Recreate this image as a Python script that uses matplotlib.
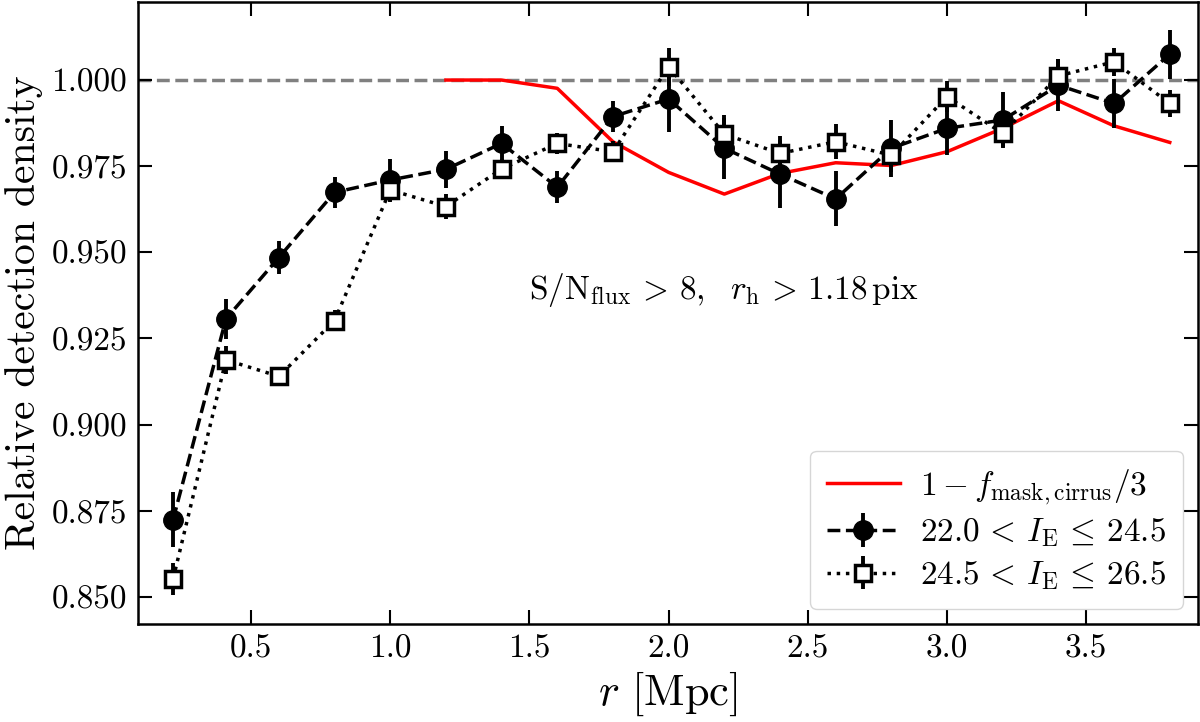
import numpy as np
import matplotlib
matplotlib.use("Agg")
import matplotlib.pyplot as plt

plt.rcParams['font.family'] = 'serif'
plt.rcParams['font.serif'] = ['cmr10']
plt.rcParams['mathtext.fontset'] = 'cm'
plt.rcParams['axes.formatter.use_mathtext'] = True

# bright sample: 22.0 < I_E <= 24.5
r_bright = [0.22, 0.41, 0.6, 0.8, 1.0, 1.2, 1.4, 1.6, 1.8, 2.0, 2.2, 2.4, 2.6, 2.8, 3.0, 3.2, 3.4, 3.6, 3.8]
d_bright = [0.8724, 0.9307, 0.9485, 0.9674, 0.9710, 0.9741, 0.9816, 0.9689, 0.9894, 0.9945,
            0.9802, 0.9727, 0.9655, 0.9802, 0.9860, 0.9884, 0.9985, 0.9932, 1.0075]
e_bright = [0.008, 0.0058, 0.0048, 0.0044, 0.006, 0.0054, 0.005, 0.0047, 0.0044, 0.0095,
            0.0089, 0.0098, 0.008, 0.0082, 0.0077, 0.008, 0.0075, 0.007, 0.0071]

# faint sample: 24.5 < I_E <= 26.5
r_faint = [0.22, 0.41, 0.6, 0.8, 1.0, 1.2, 1.4, 1.6, 1.8, 2.0, 2.2, 2.4, 2.6, 2.8, 3.0, 3.2, 3.4, 3.6, 3.8]
d_faint = [0.8552, 0.9188, 0.9140, 0.9302, 0.9681, 0.9633, 0.9742, 0.9816, 0.9792, 1.0039,
           0.9843, 0.9787, 0.9821, 0.9782, 0.9952, 0.9845, 1.0012, 1.0053, 0.9932]
e_faint = [0.0046, 0.004, 0.0025, 0.003, 0.0035, 0.0035, 0.003, 0.003, 0.003, 0.0055,
           0.0055, 0.005, 0.005, 0.005, 0.0044, 0.004, 0.005, 0.004, 0.004]

# cirrus mask curve
r_mask = [1.2, 1.4, 1.6, 1.8, 2.0, 2.2, 2.4, 2.6, 2.8, 3.0, 3.2, 3.4, 3.6, 3.8]
d_mask = [1.0, 1.0, 0.9976, 0.9821, 0.9732, 0.9669, 0.9729, 0.9760, 0.9752, 0.9792,
          0.9860, 0.9940, 0.9867, 0.9819]

fig = plt.figure(figsize=(12, 7.22), dpi=100)
ax = fig.add_axes([0.115, 0.136, 0.883, 0.861])

ax.axhline(1.0, color='gray', ls='--', lw=2.5, zorder=1)
ax.plot(r_mask, d_mask, color='red', lw=2.5, label=r'$1-f_{\rm mask,cirrus}/3$', zorder=2)
ax.errorbar(r_bright, d_bright, yerr=e_bright, fmt='o', ls='--', color='k', ms=14, lw=2.5,
            elinewidth=2.8, label=r'$22.0\,<\,I_{\rm E}\,\leq\,24.5$', zorder=3)
ax.errorbar(r_faint, d_faint, yerr=e_faint, fmt='s', ls=':', color='k', ms=12, lw=2.5,
            mfc='white', mec='k', mew=2.5, elinewidth=2.8,
            label=r'$24.5\,<\,I_{\rm E}\,\leq\,26.5$', zorder=4)

ax.text(2.2, 0.939, r'$\rm S/N_{flux}\,>\,8,\ \ \mathit{r}_h\,>\,1.18\,pix$', fontsize=24,
        ha='center', va='center')

ax.set_xlim(0.094, 3.90)
ax.set_ylim(0.8422, 1.0226)
ax.set_xticks([0.5, 1.0, 1.5, 2.0, 2.5, 3.0, 3.5])
ax.set_yticks([0.85, 0.875, 0.9, 0.925, 0.95, 0.975, 1.0])
ax.set_xticklabels(['0.5', '1.0', '1.5', '2.0', '2.5', '3.0', '3.5'])
ax.set_yticklabels(['0.850', '0.875', '0.900', '0.925', '0.950', '0.975', '1.000'])
ax.tick_params(direction='in', top=True, right=True, labelsize=24, length=10, width=1.5, pad=8)
for s in ax.spines.values():
    s.set_linewidth(1.8)

ax.set_xlabel(r'$r\ [\rm Mpc]$', fontsize=32, labelpad=4)
ax.set_ylabel('Relative detection density', fontsize=30, labelpad=6)

ax.legend(loc='lower right', fontsize=24, handlelength=2.2, borderpad=0.5,
          labelspacing=0.3, borderaxespad=0.45, handletextpad=0.6)

fig.savefig('out.png', dpi=100)
